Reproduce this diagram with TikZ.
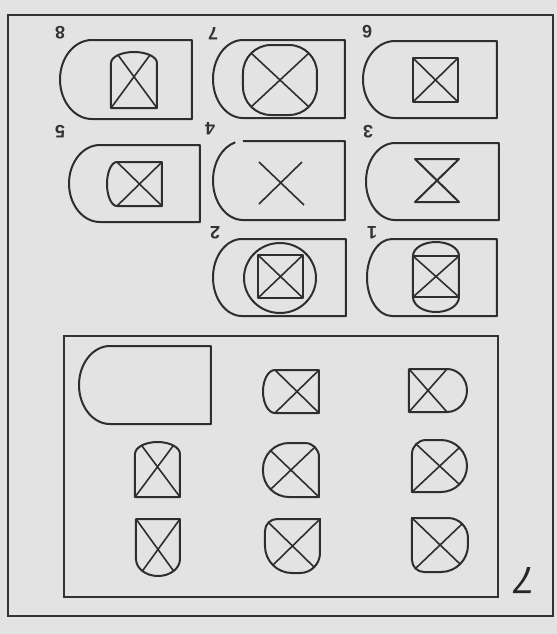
\documentclass[tikz,border=0pt]{standalone}
\usepackage{fontspec}
\setmainfont{Liberation Sans}
\newcommand{\Dleft}[5]{\draw[ln] (#2,#4) -- (#3,#4) -- (#3,#5) -- (#2,#5) arc[start angle=90,end angle=270,x radius={#2-#1},y radius={(#5-#4)/2}] -- cycle;}
\newcommand{\Dright}[5]{\draw[ln] (#2,#5) -- (#1,#5) -- (#1,#4) -- (#2,#4) arc[start angle=270,end angle=450,x radius={#3-#2},y radius={(#5-#4)/2}] -- cycle;}
\newcommand{\Cbox}[8]{\draw[ln] ({#1+#5},#2) -- ({#3-#6},#2) arc[start angle=270,end angle=360,radius=#6] -- (#3,{#4-#7}) arc[start angle=0,end angle=90,radius=#7] -- ({#1+#8},#4) arc[start angle=90,end angle=180,radius=#8] -- (#1,{#2+#5}) arc[start angle=180,end angle=270,radius=#5] -- cycle;}
\begin{document}
\begin{tikzpicture}[x=0.5pt,y=-0.5pt,
  ln/.style={draw=black!82,line width=1pt,line join=round},
  frm/.style={draw=black!80,line width=0.9pt},
  xl/.style={draw=black!82,line width=0.8pt},
  num/.style={rotate=180,inner sep=0pt,font=\fontsize{9}{9}\selectfont\bfseries,text=black!80},
  bignum/.style={rotate=180,inner sep=0pt,font=\fontsize{19}{19}\selectfont\itshape,text=black!85}]
\fill[black!11] (0,0) rectangle (557,634);
\useasboundingbox (0,0) rectangle (557,634);
% outer frame
\draw[frm] (8,15) rectangle (553,616);
% ---------- top part ----------
% shape 8
\Dleft{60}{92}{192}{40}{119}
\draw[ln] (111,108) -- (111,63) arc[start angle=180,end angle=360,x radius=23,y radius=11] -- (157,108) -- cycle;
\draw[xl] (111,108) -- (150,55) (157,108) -- (118,55);
\node[num] (n8) at (60,33) {8};
% shape 7
\Dleft{213}{243}{345}{40}{118}
\Cbox{243}{45}{317}{115}{28}{28}{28}{28}
\draw[xl] (251,53) -- (309,107) (309,53) -- (251,107);
\node[num] (n7) at (213,34) {7};
% shape 6
\Dleft{363}{395}{497}{41}{118}
\draw[ln] (413,58) rectangle (458,102);
\draw[xl] (413,58) -- (458,102) (458,58) -- (413,102);
\node[num] (n6) at (367,32) {6};
% shape 5
\Dleft{69}{100}{200}{145}{222}
\Dleft{107}{117}{162}{162}{206}
\draw[xl] (162,162) -- (117,206) (162,206) -- (117,162);
\node[num] (n5) at (60,132) {5};
% shape 4
\draw[ln] (243,141) -- (345,141) -- (345,220) -- (243,220) arc[start angle=90,end angle=255,x radius=30,y radius=39.5];
\draw[xl] (259,162) -- (304,205) (302,162) -- (259,204);
\node[num] (n4) at (210,129) {4};
% shape 3
\Dleft{366}{395}{499}{143}{220}
\draw[ln] (415,159) -- (459,159) -- (415,202) -- (459,202) -- cycle;
\node[num] (n3) at (368,132) {3};
% shape 2
\Dleft{213}{242}{346}{239}{316}
\draw[ln] (280,278) ellipse[x radius=36,y radius=35];
\draw[ln] (258,255) rectangle (303,298);
\draw[xl] (258,255) -- (303,298) (303,255) -- (258,298);
\node[num] (n2) at (215,233) {2};
% shape 1
\Dleft{367}{392}{497}{239}{316}
\draw[ln] (413,256) -- (413,297) arc[start angle=180,end angle=0,x radius=23,y radius=15] -- (459,256) arc[start angle=0,end angle=-180,x radius=23,y radius=14] -- cycle;
\draw[ln] (413,256) -- (459,256) (413,297) -- (459,297);
\draw[xl] (413,297) -- (459,256) (413,256) -- (459,297);
\node[num] (n1) at (372,233) {1};
% ---------- bottom part ----------
\draw[frm] (64,336) rectangle (498,597);
\Dleft{79}{110}{211}{346}{424}
% row 1
\Dleft{263}{275}{319}{370}{413}
\draw[xl] (319,370) -- (275,413) (319,413) -- (275,370);
\Dright{409}{447}{467}{369}{412}
\draw[xl] (409,369) -- (447,412) (409,412) -- (447,369);
% row 2
\draw[ln] (135,497) -- (135,454) arc[start angle=180,end angle=360,x radius=22.5,y radius=12] -- (180,497) -- cycle;
\draw[xl] (135,497) -- (173.4,445.5) (180,497) -- (141.6,445.5);
\Cbox{263}{443}{319}{497}{26}{14}{0.01}{26}
\draw[xl] (270.6,450.6) -- (319,497) (314.9,447.1) -- (270.6,489.4);
\Cbox{412}{440}{467}{492}{14}{26}{26}{0.01}
\draw[xl] (416.1,444.1) -- (459.4,484.4) (459.4,447.6) -- (412,492);
% row 3
\draw[ln] (136,519) -- (180,519) -- (180,559) arc[start angle=0,end angle=180,x radius=22,y radius=17] -- cycle;
\draw[xl] (136,519) -- (173.6,571) (180,519) -- (142.4,571);
\Cbox{265}{519}{320}{573}{12}{0.01}{20}{27}
\draw[xl] (268.5,522.5) -- (314.1,567.1) (320,519) -- (272.9,565.1);
\Cbox{412}{518}{468}{572}{0.01}{20}{27}{12}
\draw[xl] (412,518) -- (460.1,564.1) (462.1,523.9) -- (415.5,568.5);
\node[bignum] (big7) at (525,581) {7};
\end{tikzpicture}
\end{document}
